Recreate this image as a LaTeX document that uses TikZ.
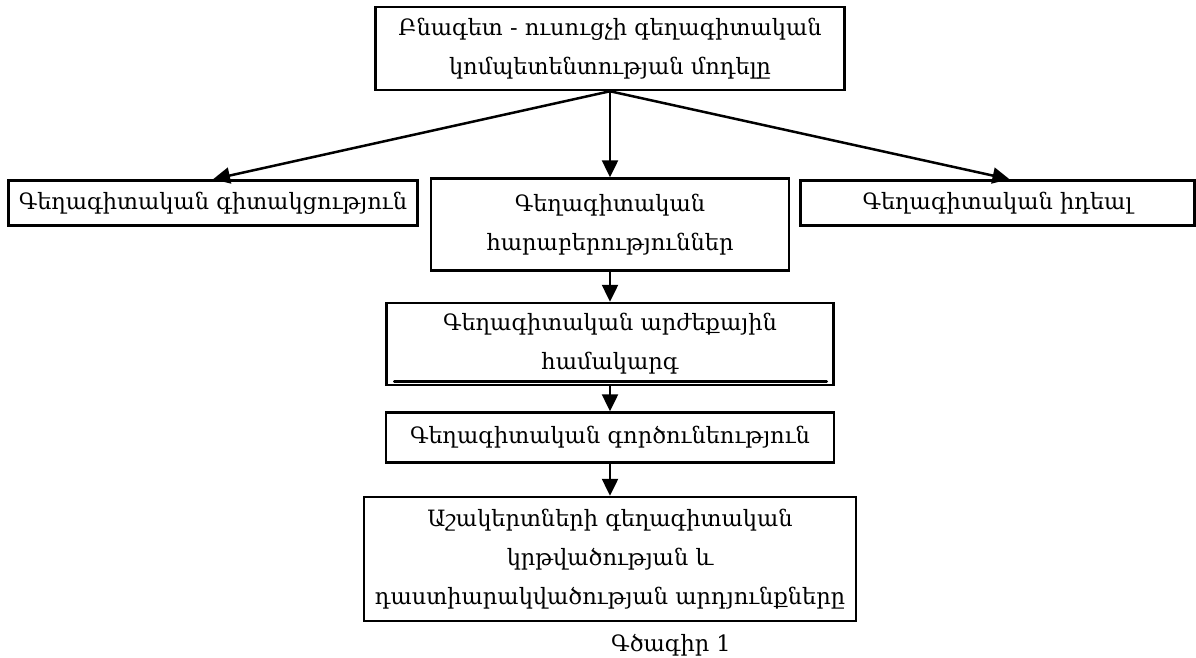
\documentclass[tikz,border=0pt]{standalone}
\usepackage{fontspec}
\setmainfont{DejaVu Serif}
\usetikzlibrary{arrows.meta,positioning,calc}

\begin{document}
\begin{tikzpicture}[x=1pt,y=-1pt,
	box/.style={draw,line width=2.5pt,align=center,inner sep=0pt,font=\fontsize{22.5}{39}\selectfont},
	link/.style={line width=2.5pt,-{Triangle[length=17pt,width=16pt]}}]
	\useasboundingbox[fill=white] (0,0) rectangle (1196,658);
	\node[box,minimum width=469pt,minimum height=83pt] (1) at (610,48.5) {Բնագետ - ուսուցչի գեղագիտական\\կոմպետենտության մոդելը};
	\node[box,minimum width=358pt,minimum height=92pt] (3) [below=86pt of 1] {Գեղագիտական\\հարաբերություններ};
	\node[box,minimum width=409pt,minimum height=45pt] (2) [below left=2pt and 11pt of 3.north west] {Գեղագիտական գիտակցություն};
	\node[box,minimum width=394pt,minimum height=45pt] (4) [below right=2pt and 9pt of 3.north east] {Գեղագիտական իդեալ};
	\node[box,minimum width=447pt,minimum height=82pt] (5) [below=30pt of 3] {Գեղագիտական արժեքային\\համակարգ};
	\node[box,minimum width=448pt,minimum height=50pt] (6) [below=25pt of 5] {Գեղագիտական գործունեություն};
	\node[box,minimum width=492pt,minimum height=124pt] (7) [below=32pt of 6] {Աշակերտների գեղագիտական\\կրթվածության և\\դաստիարակվածության արդյունքները};
	\node[font=\fontsize{22.5}{24}\selectfont] (8) at (671,645) {Գծագիր 1};
	% double bottom edge of the value box
	\draw[line width=2.5pt,line cap=round] ($(5.south west)+(9,-5)$) -- ($(5.south east)+(-8,-5)$);
	\draw[link] (1.south) -- (2.north);
	\draw[link] (1.south) -- (3.north);
	\draw[link] (1.south) -- ($(4.north)+(12,0)$);
	\draw[link] (3) -- (5);
	\draw[link] (5) -- (6);
	\draw[link] (6) -- (7);
\end{tikzpicture}
\end{document}
